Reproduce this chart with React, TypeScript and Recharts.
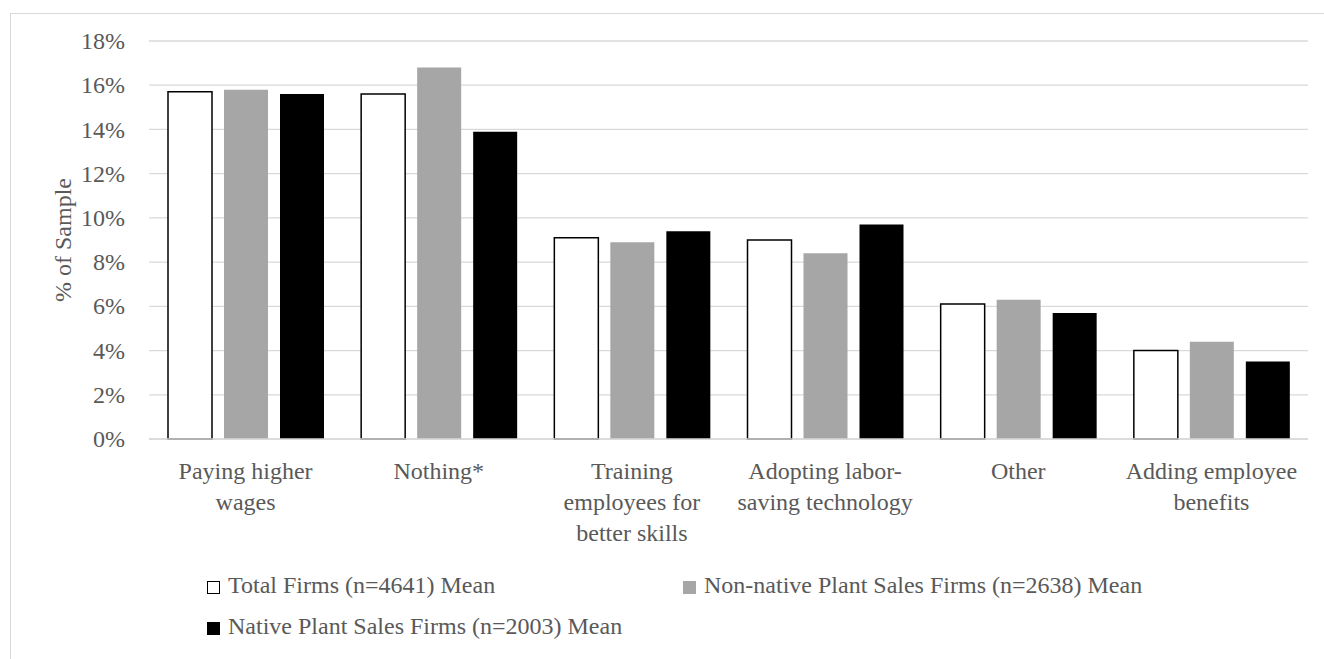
import type { CSSProperties } from "react";
import { Bar, BarChart, CartesianGrid, Legend, XAxis, YAxis } from "recharts";

const categories = [
  "Paying higher\nwages",
  "Nothing*",
  "Training\nemployees for\nbetter skills",
  "Adopting labor-\nsaving technology",
  "Other",
  "Adding employee\nbenefits",
];

const totalFirms = [15.7, 15.6, 9.1, 9.0, 6.1, 4.0];
const nonNativeFirms = [15.8, 16.8, 8.9, 8.4, 6.3, 4.4];
const nativeFirms = [15.6, 13.9, 9.4, 9.7, 5.7, 3.5];

const yTicks = [0, 2, 4, 6, 8, 10, 12, 14, 16, 18];

const seriesNames = [
  "Total Firms (n=4641) Mean",
  "Non-native Plant Sales Firms (n=2638) Mean",
  "Native Plant Sales Firms (n=2003) Mean",
];

const data = categories.map((name, i) => ({
  name,
  total: totalFirms[i],
  nonNative: nonNativeFirms[i],
  native: nativeFirms[i],
}));

const FONT = "'Liberation Serif', 'DejaVu Serif', serif";
const TEXT = "#595959";
const GRID = "#d9d9d9";

const series = [
  { key: "total", fill: "#ffffff", stroke: "#000000", strokeWidth: 1.5 },
  { key: "nonNative", fill: "#a6a6a6", stroke: "none", strokeWidth: 0 },
  { key: "native", fill: "#000000", stroke: "none", strokeWidth: 0 },
];

function CategoryTick(props: any) {
  const { x, y, payload } = props;
  const lines = String(payload.value).split("\n");
  return (
    <text
      x={x}
      y={y}
      textAnchor="middle"
      fill={TEXT}
      fontSize={24}
      fontFamily={FONT}
    >
      {lines.map((line, i) => (
        <tspan key={i} x={x} dy={i === 0 ? 40 : 31}>
          {line}
        </tspan>
      ))}
    </text>
  );
}

function PercentTick(props: any) {
  const { x, y, payload } = props;
  return (
    <text
      x={x}
      y={y}
      dy="0.34em"
      textAnchor="end"
      fill={TEXT}
      fontSize={24}
      fontFamily={FONT}
    >
      {`${payload.value}%`}
    </text>
  );
}

function YLabel(props: any) {
  const vb = props.viewBox || { x: 0, y: 41, width: 149, height: 398 };
  const cx = vb.x + 63;
  const cy = vb.y + vb.height / 2;
  return (
    <text
      x={cx}
      y={cy}
      dy="0.34em"
      transform={`rotate(-90, ${cx}, ${cy})`}
      textAnchor="middle"
      fill={TEXT}
      fontSize={24}
      fontFamily={FONT}
    >
      % of Sample
    </text>
  );
}

const swatchBase: CSSProperties = {
  display: "inline-block",
  width: 13,
  height: 13,
  boxSizing: "border-box",
  marginRight: 8,
  verticalAlign: "-1px",
};

function ChartLegend() {
  return (
    <div
      style={{
        marginLeft: 207,
        width: 960,
        fontFamily: FONT,
        fontSize: 24,
        lineHeight: "41px",
        color: TEXT,
      }}
    >
      {seriesNames.map((name, i) => (
        <div
          key={name}
          style={{ display: "inline-block", width: 476, whiteSpace: "nowrap" }}
        >
          <span
            style={{
              ...swatchBase,
              background: series[i].fill,
              border: i === 0 ? "1.5px solid #000" : "none",
            }}
          />
          {name}
        </div>
      ))}
    </div>
  );
}

export default function App() {
  return (
    <div
      style={{
        position: "absolute",
        left: 0,
        top: 0,
        width: 1324,
        height: 659,
        overflow: "hidden",
        background: "#ffffff",
      }}
    >
      <div
        style={{
          position: "absolute",
          left: 10,
          top: 13,
          width: 1400,
          height: 700,
          border: `1px solid ${GRID}`,
          pointerEvents: "none",
        }}
      />
      <BarChart
        width={1324}
        height={659}
        data={data}
        margin={{ top: 41, right: 16, bottom: 0, left: 0 }}
        barSize={44}
        barGap={12}
      >
        <CartesianGrid vertical={false} stroke={GRID} strokeWidth={1.3} />
        <XAxis
          dataKey="name"
          interval={0}
          height={140}
          tickLine={false}
          tickSize={0}
          tickMargin={0}
          axisLine={{ stroke: GRID, strokeWidth: 1.3 }}
          tick={<CategoryTick />}
        />
        <YAxis
          width={149}
          domain={[0, 18]}
          ticks={yTicks}
          interval={0}
          tickLine={false}
          axisLine={false}
          tickSize={0}
          tickMargin={24}
          tick={<PercentTick />}
          label={<YLabel />}
        />
        <Legend
          content={() => <ChartLegend />}
          wrapperStyle={{ position: "absolute", top: 565, left: 0, width: 1324, height: 80 }}
        />
        {series.map((s, i) => (
          <Bar
            key={s.key}
            dataKey={s.key}
            name={seriesNames[i]}
            fill={s.fill}
            stroke={s.stroke}
            strokeWidth={s.strokeWidth}
            isAnimationActive={false}
          />
        ))}
      </BarChart>
    </div>
  );
}
